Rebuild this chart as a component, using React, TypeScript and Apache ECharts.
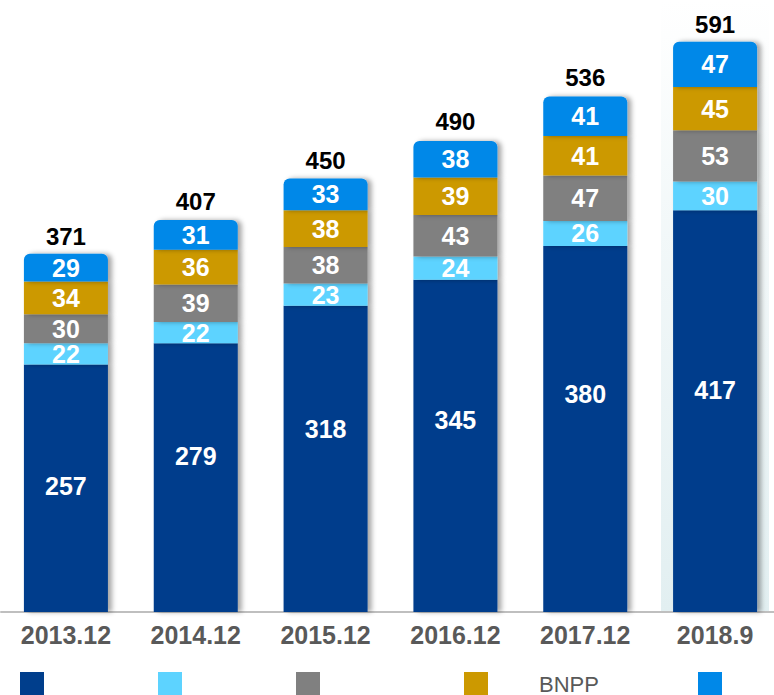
import React, { useEffect, useRef } from "react";
import * as echarts from "echarts";

const categories = ["2013.12", "2014.12", "2015.12", "2016.12", "2017.12", "2018.9"];
const seriesNames = ["", "", "", "BNPP", ""];
const s1 = [257, 279, 318, 345, 380, 417];
const s2 = [22, 22, 23, 24, 26, 30];
const s3 = [30, 39, 38, 43, 47, 53];
const s4 = [34, 36, 38, 39, 41, 45];
const s5 = [29, 31, 33, 38, 41, 47];
const totals = [371, 407, 450, 490, 536, 591];
const colors = ["#003E8C", "#5DD3FF", "#808080", "#CC9900", "#0088E8"];
// vertical nudges of the bottom segment labels, as placed in the reference
const baseLabelNudge = [-2, -22, -30, -26, -35, -21];

const FONT = "Arial, 'Liberation Sans', sans-serif";

export default function App() {
  const ref = useRef<HTMLDivElement>(null);
  useEffect(() => {
    const chart = echarts.init(ref.current!, null, { renderer: "svg" });
    const data = [s1, s2, s3, s4, s5];
    const series: any[] = data.map((d, i) => ({
      name: "s" + i,
      type: "bar",
      stack: "total",
      data:
        i === 0
          ? d.map((v, j) => ({ value: v, label: { offset: [0, baseLabelNudge[j]] } }))
          : d,
      barWidth: 84,
      itemStyle: {
        color: colors[i],
        borderRadius: i === 4 ? [6, 6, 0, 0] : 0,
        shadowColor: "rgba(0,0,0,0.35)",
        shadowBlur: 5,
        shadowOffsetX: 4,
        shadowOffsetY: 0,
      },
      label: {
        show: true,
        position: "inside",
        color: "#ffffff",
        fontSize: 25,
        fontWeight: "bold",
        fontFamily: FONT,
      },
      z: 3,
    }));
    series.push({
      name: "total",
      type: "scatter",
      data: totals,
      symbol: "circle",
      symbolSize: 2,
      itemStyle: { color: "rgba(255,255,255,0)" },
      label: {
        show: true,
        position: "top",
        distance: 5,
        color: "#000000",
        opacity: 1,
        fontSize: 24,
        fontWeight: "bold",
        fontFamily: FONT,
      },
      z: 5,
    });

    const legendX = [20, 158, 296, 464, 698];
    const graphic: any[] = [
      {
        type: "rect",
        z: -10,
        silent: true,
        shape: { x: 661, y: 0, width: 108, height: 612 },
        style: {
          fill: new echarts.graphic.LinearGradient(0, 0, 0, 1, [
            { offset: 0, color: "rgba(228,240,242,0)" },
            { offset: 0.4, color: "rgba(228,240,242,0.5)" },
            { offset: 1, color: "rgba(226,239,241,1)" },
          ]),
        },
      },
    ];
    seriesNames.forEach((n, i) => {
      graphic.push({
        type: "rect",
        shape: { x: legendX[i], y: 672, width: 24, height: 26 },
        style: { fill: colors[i] },
      });
      if (n) {
        graphic.push({
          type: "text",
          x: legendX[i] + 75,
          y: 684,
          style: {
            text: n,
            fill: "#595959",
            fontSize: 22,
            fontFamily: FONT,
            verticalAlign: "middle",
          },
        });
      }
    });

    chart.setOption({
      animation: false,
      backgroundColor: "#ffffff",
      grid: { left: 1, width: 779, top: 34, bottom: 83 },
      xAxis: {
        type: "category",
        data: categories,
        axisTick: { show: false },
        axisLine: { lineStyle: { color: "#BFBFBF", width: 2 } },
        axisLabel: {
          color: "#595959",
          fontSize: 25,
          fontWeight: "bold",
          fontFamily: FONT,
          margin: 10,
        },
      },
      yAxis: {
        type: "value",
        min: 0,
        max: 600,
        show: false,
        splitLine: { show: false },
      },
      graphic,
      series,
    });
    return () => chart.dispose();
  }, []);
  return (
    <div
      style={{
        position: "absolute",
        left: 0,
        top: 0,
        width: 774,
        height: 695,
        overflow: "hidden",
        background: "#ffffff",
      }}
    >
      <div ref={ref} style={{ width: 790, height: 695 }} />
    </div>
  );
}
